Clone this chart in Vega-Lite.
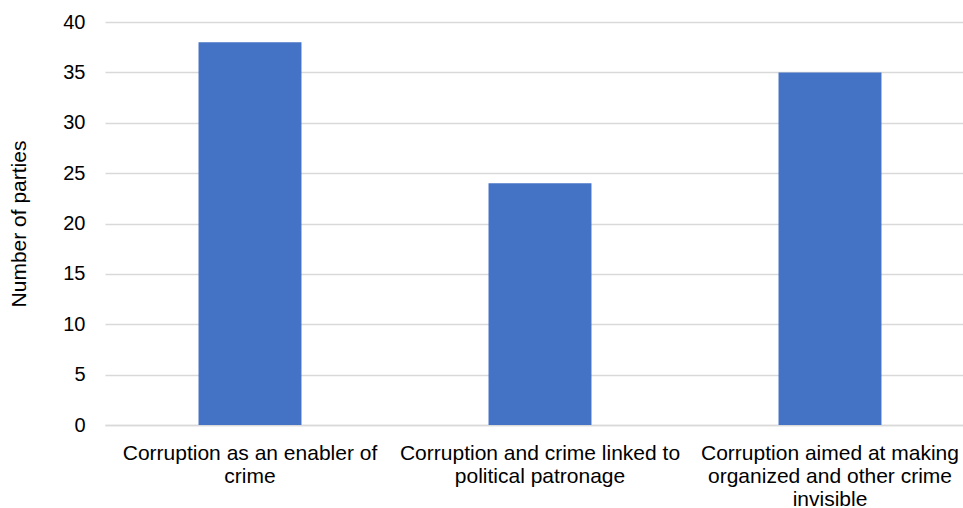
{
  "$schema": "https://vega.github.io/schema/vega-lite/v6.json",
  "autosize": {"type": "none"},
  "width": 870,
  "height": 403,
  "padding": {"left": 105, "top": 22, "right": 0, "bottom": 83},
  "background": "white",
  "data": {
    "values": [
      {"category": "Corruption as an enabler of|crime", "parties": 38},
      {"category": "Corruption and crime linked to|political patronage", "parties": 24},
      {"category": "Corruption aimed at making|organized and other crime|invisible", "parties": 35}
    ]
  },
  "mark": {"type": "bar", "color": "#4472C4"},
  "encoding": {
    "x": {
      "field": "category",
      "type": "nominal",
      "sort": null,
      "scale": {"paddingInner": 0.645, "paddingOuter": 0.3225},
      "axis": {
        "title": null,
        "labelAngle": 0,
        "labelExpr": "split(datum.label, '|')",
        "labelFont": "Liberation Sans",
        "labelFontSize": 21,
        "labelColor": "#000000",
        "labelLineHeight": 23,
        "labelPadding": 17,
        "labelLimit": 400,
        "ticks": false,
        "domainColor": "#d9d9d9",
        "domainWidth": 1.5,
        "grid": false
      }
    },
    "y": {
      "field": "parties",
      "type": "quantitative",
      "scale": {"domain": [0, 40]},
      "axis": {
        "title": "Number of parties",
        "titleFont": "Liberation Sans",
        "titleFontSize": 21,
        "titleFontWeight": "normal",
        "titleColor": "#000000",
        "titlePadding": 33,
        "values": [0, 5, 10, 15, 20, 25, 30, 35, 40],
        "labelFont": "Liberation Sans",
        "labelFontSize": 20,
        "labelColor": "#000000",
        "labelPadding": 20,
        "ticks": false,
        "domain": false,
        "gridColor": "#d9d9d9",
        "gridWidth": 1.5
      }
    }
  },
  "config": {"view": {"stroke": null}}
}
